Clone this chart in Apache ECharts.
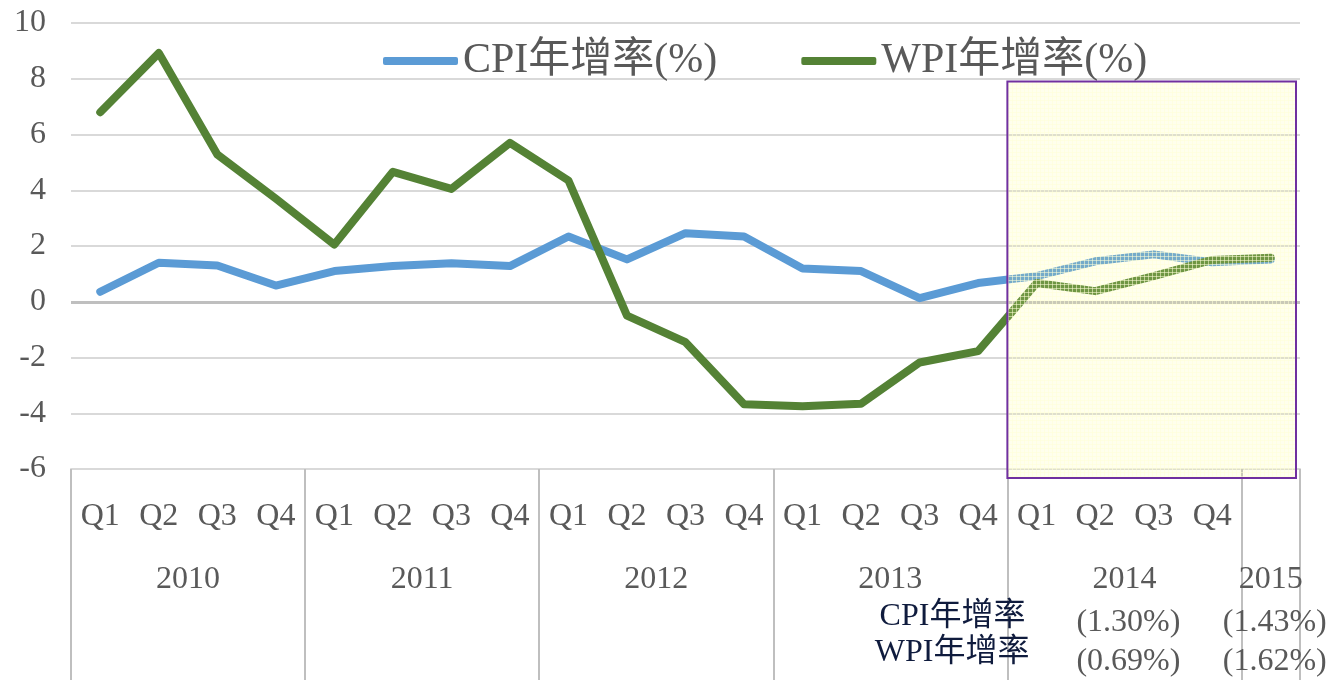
<!DOCTYPE html>
<html>
<head>
<meta charset="utf-8">
<title>CPI / WPI 年增率</title>
<script src="https://cdn.jsdelivr.net/npm/echarts@6/dist/echarts.min.js"></script>
<style>
  html, body { margin: 0; padding: 0; background: #fff; }
  #main { width: 1333px; height: 680px; }
</style>
</head>
<body>
<div id="main"></div>
<script>
// quarter label and year of every category on the x axis
const quarters = ['Q1', 'Q2', 'Q3', 'Q4', 'Q1', 'Q2', 'Q3', 'Q4', 'Q1', 'Q2', 'Q3', 'Q4',
  'Q1', 'Q2', 'Q3', 'Q4', 'Q1', 'Q2', 'Q3', 'Q4', ''];
const quarterYears = ['2010', '2010', '2010', '2010', '2011', '2011', '2011', '2011',
  '2012', '2012', '2012', '2012', '2013', '2013', '2013', '2013',
  '2014', '2014', '2014', '2014', '2015'];

// 年增率 (%)
const cpi = [0.36, 1.4, 1.3, 0.58, 1.1, 1.28, 1.38, 1.28, 2.34, 1.52, 2.46, 2.34,
  1.19, 1.1, 0.13, 0.67, 0.92, 1.45, 1.7, 1.42, 1.52];
const wpi = [6.8, 8.92, 5.28, 3.7, 2.05, 4.66, 4.05, 5.7, 4.35, -0.5, -1.45, -3.68,
  -3.75, -3.66, -2.18, -1.77, 0.67, 0.38, 0.92, 1.5, 1.58];

const yMin = -6, yMax = 10, yStep = 2;

// forecast years and their annual rates
const forecastYears = ['2014', '2015'];
const cpiAnnual = ['(1.30%)', '(1.43%)'];
const wpiAnnual = ['(0.69%)', '(1.62%)'];

const FONT = '"Liberation Serif", "Noto Sans CJK TC", serif';
const GREY = '#595959';

const categories = quarters.map((q, i) => quarterYears[i] + q);

// centre of each year group, in category units (0..n)
const yearCenter = {};
quarterYears.forEach((y, i) => {
  if (!(y in yearCenter)) yearCenter[y] = { first: i, count: 0 };
  yearCenter[y].count++;
});
Object.keys(yearCenter).forEach(y => {
  yearCenter[y] = yearCenter[y].first + yearCenter[y].count / 2;
});

const chart = echarts.init(document.getElementById('main'));

const option = {
  animation: false,
  backgroundColor: '#fff',
  textStyle: { fontFamily: FONT },
  grid: { left: 71, right: 33, top: 23, bottom: 211, containLabel: false },
  legend: {
    left: 378,
    top: 35,
    icon: 'roundRect',
    itemWidth: 75,
    itemHeight: 8,
    itemGap: 84,
    textStyle: { fontSize: 42, color: GREY, fontFamily: FONT },
    data: ['CPI年增率(%)', 'WPI年增率(%)']
  },
  xAxis: [
    {
      type: 'category',
      data: categories,
      boundaryGap: true,
      position: 'bottom',
      axisLine: { show: true, onZero: false, lineStyle: { color: '#d9d9d9', width: 2 } },
      axisTick: {
        show: true,
        interval: (i) => i === 0 || quarterYears[i] !== quarterYears[i - 1],
        length: 215,
        lineStyle: { color: '#bfbfbf', width: 2 }
      },
      axisLabel: {
        interval: 0,
        margin: 32,
        fontSize: 32,
        color: GREY,
        fontFamily: FONT,
        formatter: (v, i) => quarters[i]
      },
      splitLine: { show: false }
    },
    {
      // year row under the quarters
      type: 'value',
      min: 0,
      max: quarters.length,
      interval: 0.5,
      position: 'bottom',
      axisLine: { show: false },
      axisTick: { show: false },
      splitLine: { show: false },
      axisLabel: {
        margin: 95,
        fontSize: 32,
        color: GREY,
        fontFamily: FONT,
        formatter: (v) => {
          for (const y in yearCenter) if (Math.abs(yearCenter[y] - v) < 1e-6) return y;
          return '';
        }
      }
    }
  ],
  yAxis: {
    type: 'value',
    min: yMin,
    max: yMax,
    interval: yStep,
    axisLine: { show: false },
    axisTick: { show: false },
    axisLabel: { fontSize: 32, color: GREY, margin: 25, fontFamily: FONT },
    splitLine: { lineStyle: { color: '#d9d9d9', width: 2 } }
  },
  series: [
    {
      name: 'CPI年增率(%)',
      type: 'line',
      data: cpi,
      showSymbol: false,
      symbol: 'none',
      z: 3,
      itemStyle: { color: '#5b9bd5' },
      lineStyle: { color: '#5b9bd5', width: 8, cap: 'round', join: 'round' },
      markLine: {
        silent: true,
        symbol: 'none',
        z: 1,
        label: { show: false },
        lineStyle: { color: '#bfbfbf', width: 3, type: 'solid' },
        data: [{ yAxis: 0 }]
      }
    },
    {
      name: 'WPI年增率(%)',
      type: 'line',
      data: wpi,
      showSymbol: false,
      symbol: 'none',
      z: 3,
      itemStyle: { color: '#548235' },
      lineStyle: { color: '#548235', width: 8, cap: 'round', join: 'round' }
    }
  ]
};

chart.setOption(option);

// forecast box and the annual-rate notes under the axis
const px = (i) => chart.convertToPixel({ xAxisIndex: 0 }, categories[i]);
const pv = (v) => chart.convertToPixel({ xAxisIndex: 1 }, v);
const py = (v) => chart.convertToPixel({ yAxisIndex: 0 }, v);

const firstForecast = quarterYears.indexOf(forecastYears[0]);
const boxLeft = (px(firstForecast - 1) + px(firstForecast)) / 2;
const boxRight = pv(quarters.length) - 4;
const boxTop = py(7.9);
const axisBottom = py(yMin);
const boxBottom = axisBottom + 9;

const pat = document.createElement('canvas');
pat.width = 4; pat.height = 4;
const g = pat.getContext('2d');
g.fillStyle = 'rgba(255,255,140,0.16)';
g.fillRect(0, 0, 4, 4);
g.fillStyle = 'rgba(255,255,215,0.55)';
g.fillRect(0, 0, 4, 1);
g.fillRect(0, 0, 1, 4);

const graphics = [
  {
    type: 'rect',
    silent: true,
    z: 100,
    shape: { x: boxLeft, y: boxTop, width: boxRight - boxLeft, height: boxBottom - boxTop },
    style: { fill: { image: pat, repeat: 'repeat' }, stroke: '#7030a0', lineWidth: 2 }
  },
  {
    type: 'text', z: 100, x: boxLeft + 18, y: axisBottom + 148,
    style: { text: 'CPI年增率', font: '32px ' + FONT, fill: '#0f1b3d', align: 'right', verticalAlign: 'middle' }
  },
  {
    type: 'text', z: 100, x: boxLeft + 22, y: axisBottom + 184,
    style: { text: 'WPI年增率', font: '32px ' + FONT, fill: '#0f1b3d', align: 'right', verticalAlign: 'middle' }
  }
];
forecastYears.forEach((y, k) => {
  const cx = pv(yearCenter[y]) + 4;
  graphics.push({
    type: 'text', z: 100, x: cx, y: axisBottom + 154,
    style: { text: cpiAnnual[k], font: '32px ' + FONT, fill: GREY, align: 'center', verticalAlign: 'middle' }
  });
  graphics.push({
    type: 'text', z: 100, x: cx, y: axisBottom + 193,
    style: { text: wpiAnnual[k], font: '32px ' + FONT, fill: GREY, align: 'center', verticalAlign: 'middle' }
  });
});

chart.setOption({ graphic: graphics });
</script>
</body>
</html>
